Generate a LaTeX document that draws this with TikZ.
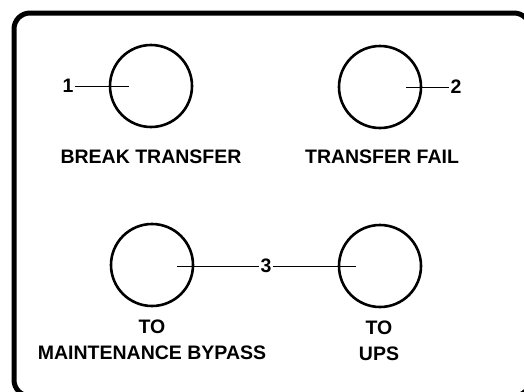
\documentclass[tikz,border=0pt]{standalone}
\usepackage{fontspec}
\setmainfont{Liberation Sans}
\tikzset{panel/.style={x=1pt,y=-1pt,font=\bfseries\fontsize{19.5}{26}\selectfont},
  lamp/.style={circle,draw,line width=2.6pt,minimum size=82pt,inner sep=0pt},
  tag/.style={inner sep=1pt},
  lead/.style={line width=1pt}}

\begin{document}
\begin{tikzpicture}[panel]
    \clip (0,0) rectangle (524,391);
    \draw[line width=5pt,rounded corners=16pt] (14,13) rectangle (530,396);
    % lamps
    \node[lamp] (brk) at (151,86) {};
    \node[lamp] (fail) at (380,87) {};
    \node[lamp] (byp) at (152,265) {};
    \node[lamp] (ups) at (380,266) {};
    \node (tbrk) at (151,157) {BREAK TRANSFER};
    \node (tfail) at (382,157) {TRANSFER FAIL};
    \node[align=center] (tbyp) at (152,340) {TO\\MAINTENANCE BYPASS};
    \node[align=center] (tups) at (379,341) {TO\\UPS};
    % callouts
    \node[tag] (n1) at (68,86) {1};
    \node[tag] (n2) at (456,87) {2};
    \node[tag] (n3) at (266,266) {3};
    \coordinate (e1) at (129,86);
    \coordinate (e2) at (406,87);
    \coordinate (e3a) at (177,266);
    \coordinate (e3b) at (356,266);
    \draw[lead] (n1.east) -- (e1);
    \draw[lead] (e2) -- (n2.west);
    \draw[lead] (e3a) -- (n3.west);
    \draw[lead] (n3.east) -- (e3b);
\end{tikzpicture}
\end{document}
